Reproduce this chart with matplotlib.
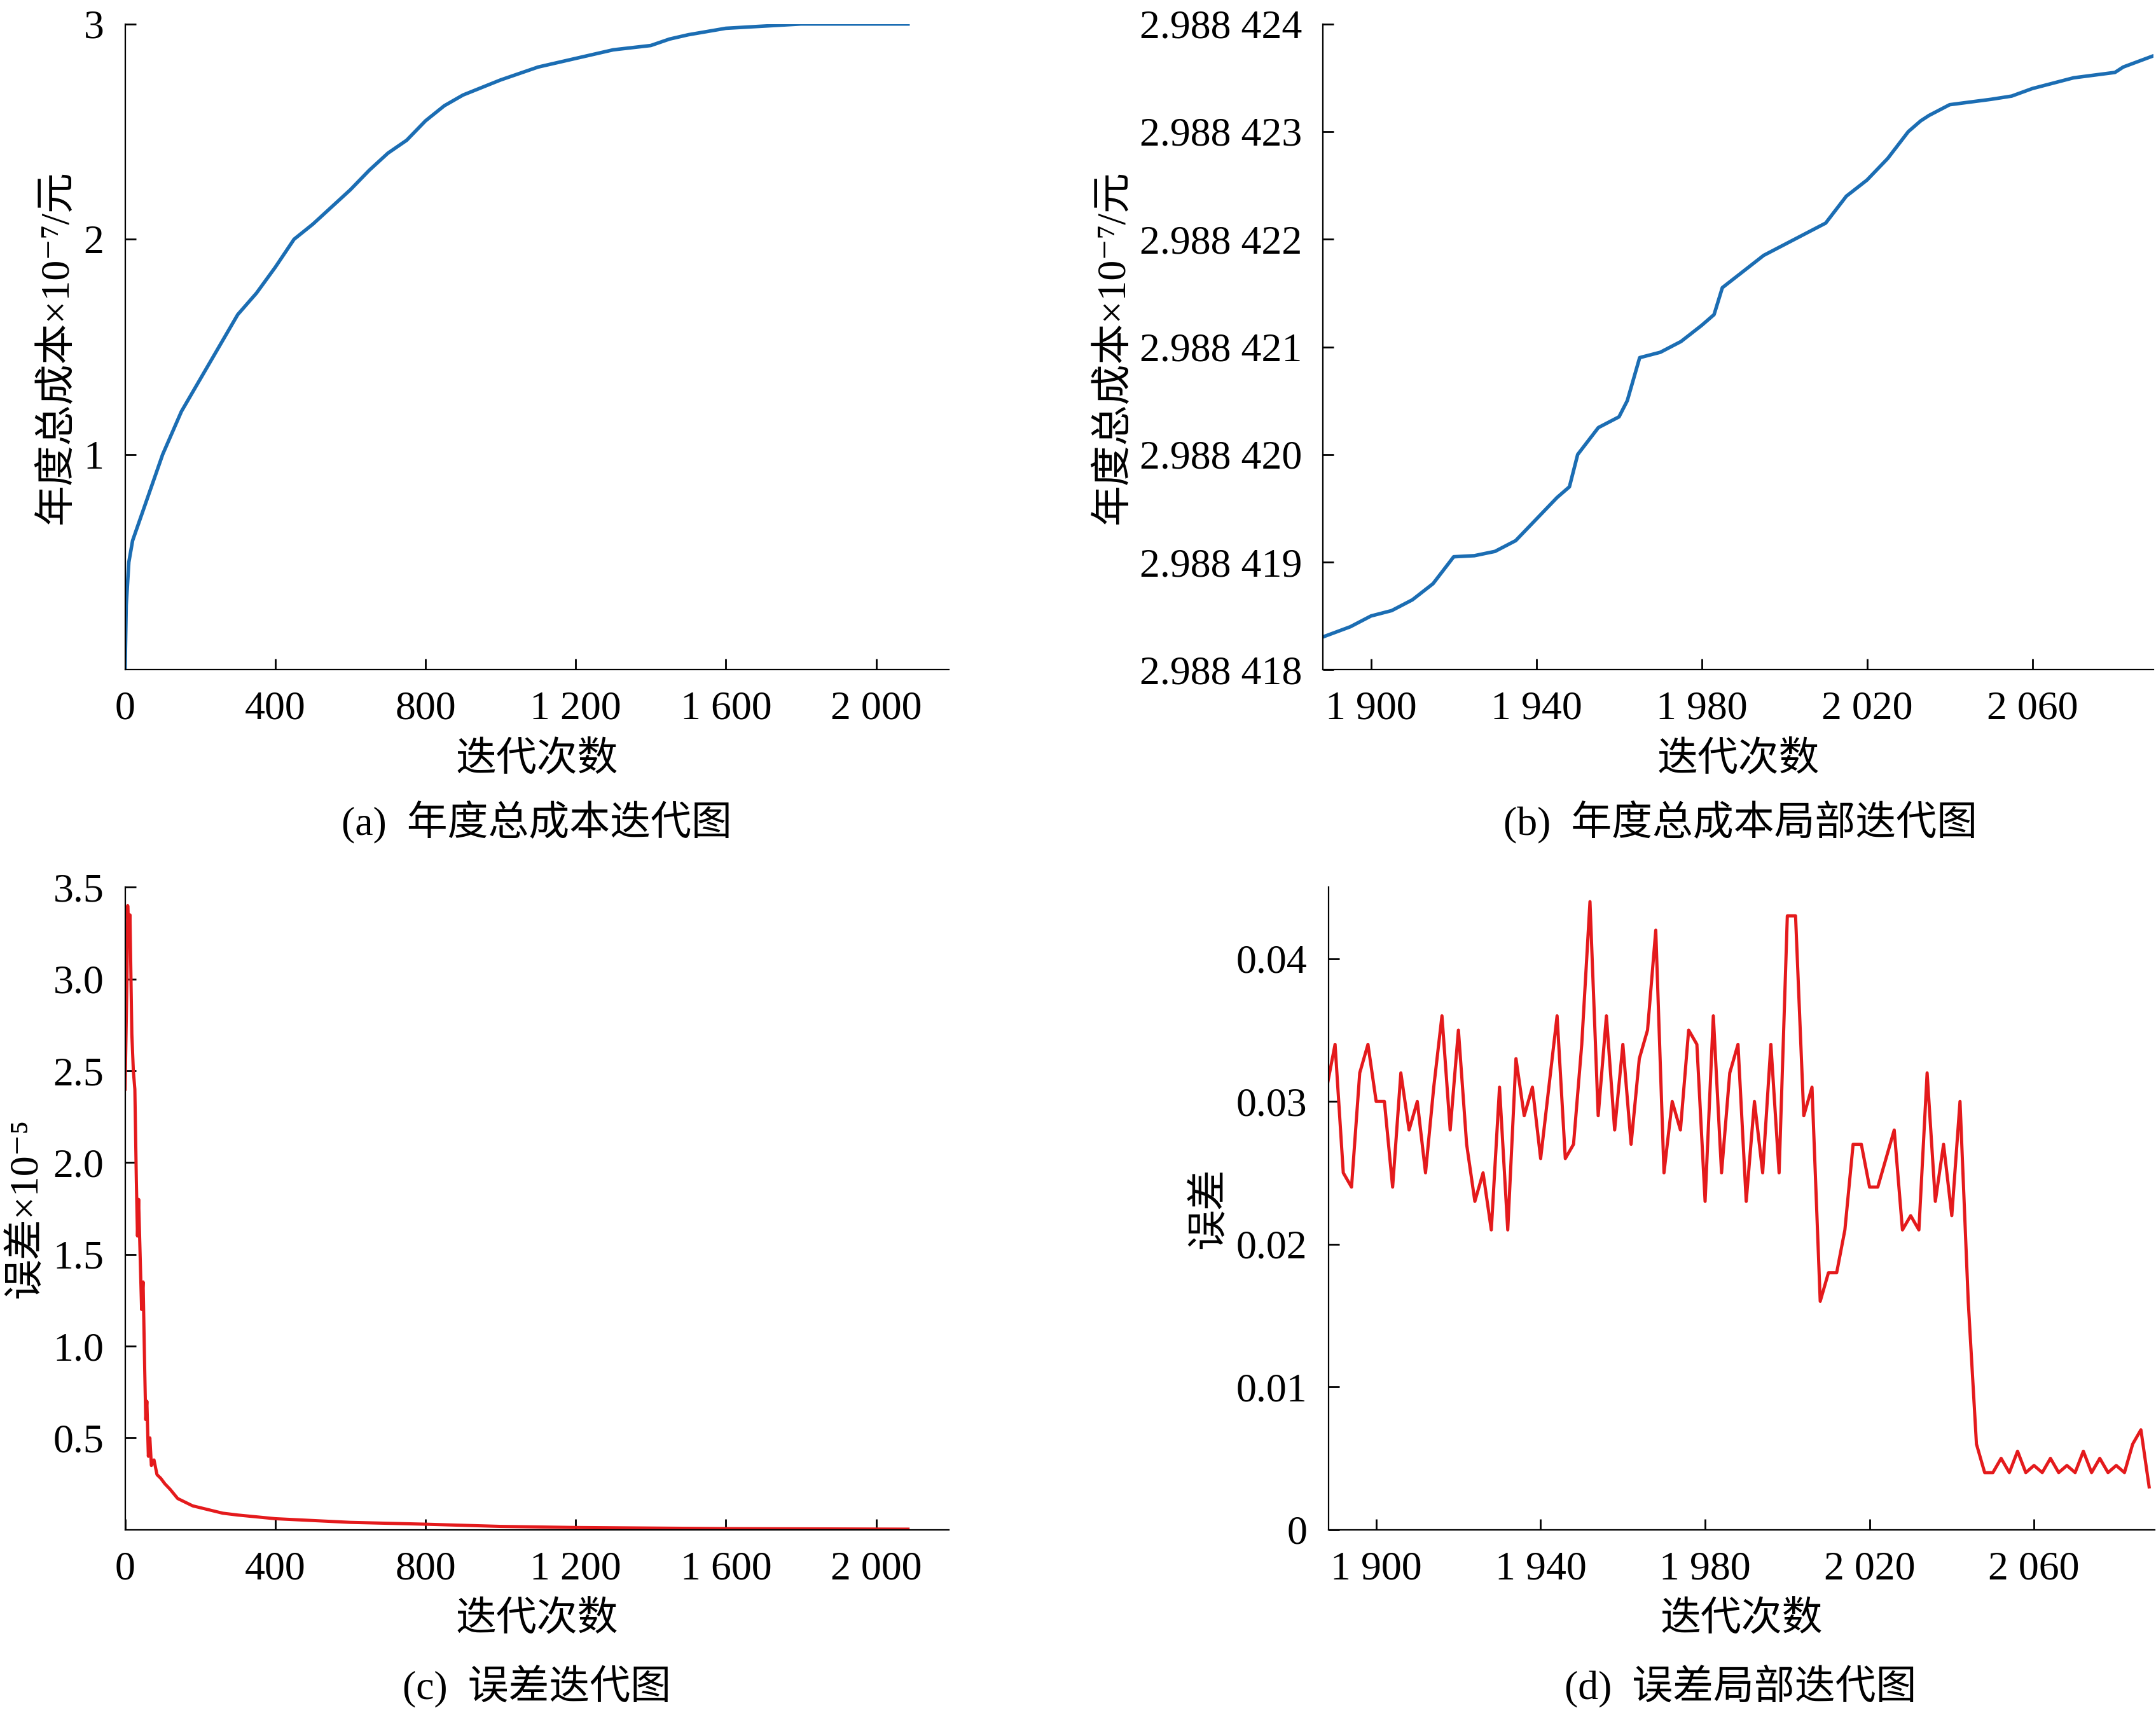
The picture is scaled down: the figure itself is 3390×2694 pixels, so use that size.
import matplotlib
matplotlib.use("Agg")
import matplotlib.pyplot as plt
import numpy as np

FAM = ['Liberation Serif', 'Noto Sans CJK SC', 'DejaVu Sans']
plt.rcParams['font.family'] = FAM

# (a) annual total cost
a_x = [0, 3, 10, 20, 40, 60, 100, 150, 200, 250, 300, 350, 400, 450, 500, 550, 600, 650, 700, 750,
       800, 850, 900, 1000, 1100, 1200, 1300, 1400, 1450, 1500, 1600, 1700, 1800, 2085]
a_y = [0, 0.3, 0.5, 0.6, 0.7, 0.8, 1.0, 1.2, 1.35, 1.5, 1.65, 1.75, 1.87, 2.0, 2.07, 2.15, 2.23, 2.32, 2.4, 2.46,
       2.55, 2.62, 2.67, 2.74, 2.8, 2.84, 2.88, 2.9, 2.93, 2.95, 2.98, 2.99, 3.0, 3.0]

# (b) local, in units of 1e-6 above 2.988
b_x = [1888, 1895, 1900, 1905, 1910, 1915, 1918, 1920, 1925, 1930, 1935, 1940, 1945, 1948, 1950, 1955, 1960, 1962,
       1965, 1970, 1975, 1980, 1983, 1985, 1990, 1995, 2000, 2005, 2010, 2013, 2015, 2020, 2025, 2030, 2033, 2035,
       2040, 2050, 2055, 2060, 2070, 2080, 2082, 2089]
b_y = [418.3, 418.4, 418.5, 418.55, 418.65, 418.8, 418.95, 419.05, 419.06, 419.1, 419.2, 419.4, 419.6, 419.7, 420.0,
       420.25, 420.35, 420.5, 420.9, 420.95, 421.05, 421.2, 421.3, 421.55, 421.7, 421.85, 421.95, 422.05, 422.15, 422.3,
       422.4, 422.55, 422.75, 423.0, 423.1, 423.15, 423.25, 423.3, 423.33, 423.4, 423.5, 423.55, 423.6, 423.7]
b_ticks = [1900, 1940, 1980, 2020, 2060]
b_yticks = [418, 419, 420, 421, 422, 423, 424]

# (c) error x1e-5
c_x = [0, 5, 7, 10, 13, 18, 22, 26, 30, 33, 36, 40, 44, 48, 52, 55, 58, 62, 66, 70, 77, 85, 95, 106, 120,
       140, 160, 180, 220, 260, 300, 400, 500, 600, 800, 1000, 1200, 1600, 2085]
c_y = [2.4, 3.0, 3.4, 3.2, 3.35, 2.7, 2.5, 2.4, 1.9, 1.6, 1.8, 1.5, 1.2, 1.35, 0.9, 0.6, 0.7, 0.4, 0.5, 0.35,
       0.38, 0.3, 0.28, 0.25, 0.22, 0.17, 0.15, 0.13, 0.11, 0.09, 0.08, 0.06, 0.05, 0.04, 0.03, 0.018, 0.012, 0.006, 0.003]

# (d) local error
d_y = [0.031, 0.034, 0.025, 0.024, 0.032, 0.034, 0.030,
       0.030, 0.024, 0.032, 0.028, 0.030, 0.025, 0.031, 0.036, 0.028, 0.035,
       0.027, 0.023, 0.025, 0.021, 0.031, 0.021, 0.033, 0.029, 0.031, 0.026,
       0.031, 0.036, 0.026, 0.027, 0.034, 0.044, 0.029, 0.036, 0.028, 0.034,
       0.027, 0.033, 0.035, 0.042, 0.025, 0.030, 0.028, 0.035, 0.034, 0.023,
       0.036, 0.025, 0.032, 0.034, 0.023, 0.030, 0.025, 0.034, 0.025, 0.043,
       0.043, 0.029, 0.031, 0.016, 0.018, 0.018, 0.021, 0.027, 0.027, 0.024,
       0.024, 0.026, 0.028, 0.021, 0.022, 0.021, 0.032, 0.023, 0.027, 0.022,
       0.030, 0.016, 0.006, 0.004, 0.004, 0.005, 0.004, 0.0055, 0.004, 0.0045, 0.004, 0.005,
       0.004, 0.0045, 0.004, 0.0055, 0.004, 0.005, 0.004, 0.0045, 0.004, 0.006, 0.007, 0.003]
d_x = [1888 + 2 * i for i in range(len(d_y))]

full_ticks = [0, 400, 800, 1200, 1600, 2000]

def fmt(v):
    return f"{v:,}".replace(",", " ")

BLUE = '#1b6db3'
RED = '#e41a1c'
FS = 23

fig = plt.figure(figsize=(16.955, 13.47), dpi=200)

def style(ax):
    for s in ['top', 'right']:
        ax.spines[s].set_visible(False)
    ax.tick_params(direction='in', length=6, width=1, labelsize=FS, pad=12)
    ax.xaxis.labelpad = 8

# (a)
ax = fig.add_axes([0.058, 0.609, 0.382, 0.377])
ax.plot(a_x, a_y, color=BLUE, lw=2)
ax.set_xlim(0, 2194); ax.set_ylim(0, 3)
ax.set_xticks(full_ticks); ax.set_xticklabels([fmt(v) for v in full_ticks])
ax.set_yticks([1, 2, 3]); ax.set_yticklabels(['1', '2', '3'])
ax.set_ylabel('年度总成本×10⁻⁷/元', fontsize=FS)
ax.set_xlabel('迭代次数', fontsize=FS)
style(ax)
fig.text(0.249, 0.513, '(a)  年度总成本迭代图', ha='center', fontsize=FS)

# (b)
ax = fig.add_axes([0.6135, 0.609, 0.385, 0.377])
ax.plot(b_x, b_y, color=BLUE, lw=2)
ax.set_xlim(1888.4, 2089.3); ax.set_ylim(418, 424)
ax.set_xticks(b_ticks); ax.set_xticklabels([fmt(v) for v in b_ticks])
ax.set_yticks(b_yticks); ax.set_yticklabels([f'2.988 {v}' for v in b_yticks])
ax.set_ylabel('年度总成本×10⁻⁷/元', fontsize=FS)
ax.set_xlabel('迭代次数', fontsize=FS)
style(ax)
fig.text(0.807, 0.513, '(b)  年度总成本局部迭代图', ha='center', fontsize=FS)

# (c)
ax = fig.add_axes([0.058, 0.107, 0.382, 0.375])
ax.plot(c_x, c_y, color=RED, lw=1.8)
ax.set_xlim(0, 2194); ax.set_ylim(0, 3.5)
ax.set_xticks(full_ticks); ax.set_xticklabels([fmt(v) for v in full_ticks])
yt = [0.5, 1.0, 1.5, 2.0, 2.5, 3.0, 3.5]
ax.set_yticks(yt); ax.set_yticklabels([f'{v:.1f}' for v in yt])
ax.set_ylabel('误差×10⁻⁵', fontsize=FS)
ax.set_xlabel('迭代次数', fontsize=FS)
style(ax)
fig.text(0.249, 0.008, '(c)  误差迭代图', ha='center', fontsize=FS)

# (d)
ax = fig.add_axes([0.616, 0.107, 0.383, 0.375])
ax.plot(d_x, d_y, color=RED, lw=1.8)
ax.set_xlim(1888.4, 2089.3); ax.set_ylim(0, 0.045)
ax.set_xticks(b_ticks); ax.set_xticklabels([fmt(v) for v in b_ticks])
dyt = [0, 0.01, 0.02, 0.03, 0.04]
ax.set_yticks(dyt); ax.set_yticklabels(['0', '0.01', '0.02', '0.03', '0.04'])
ax.set_ylabel('误差', fontsize=FS)
ax.set_xlabel('迭代次数', fontsize=FS)
style(ax)
fig.text(0.807, 0.008, '(d)  误差局部迭代图', ha='center', fontsize=FS)

fig.savefig('out.png', dpi=200)
